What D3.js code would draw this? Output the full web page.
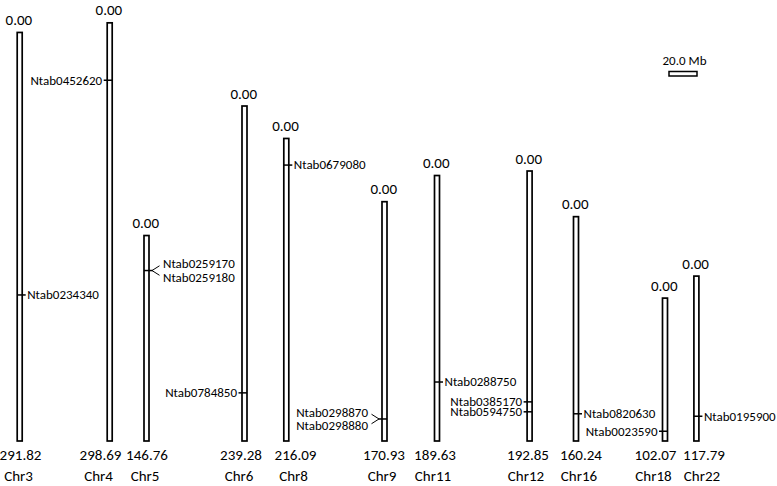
<!DOCTYPE html>
<html>
<head>
<meta charset="utf-8">
<script src="https://cdn.jsdelivr.net/npm/d3@7"></script>
<style>
  html, body { margin: 0; padding: 0; background: #fff; }
  svg { display: block; }
  text { font-family: Carlito, Calibri, Lato, "Open Sans", sans-serif; fill: #000; }
</style>
</head>
<body>
<svg id="chart" width="777" height="486"></svg>
<script>
// ---- data ----
const chromosomes = ["Chr3","Chr4","Chr5","Chr6","Chr8","Chr9","Chr11","Chr12","Chr16","Chr18","Chr22"];
const lengthsMb   = [291.82, 298.69, 146.76, 239.28, 216.09, 170.93, 189.63, 192.85, 160.24, 102.07, 117.79];
const startMb     = [0, 0, 0, 0, 0, 0, 0, 0, 0, 0, 0];

const markerNames = ["Ntab0234340","Ntab0452620","Ntab0259170","Ntab0259180","Ntab0784850","Ntab0679080",
                     "Ntab0298870","Ntab0298880","Ntab0288750","Ntab0385170","Ntab0594750","Ntab0820630",
                     "Ntab0023590","Ntab0195900"];
const markerChr   = ["Chr3","Chr4","Chr5","Chr5","Chr6","Chr8","Chr9","Chr9","Chr11","Chr12","Chr12","Chr16","Chr18","Chr22"];
const markerPosMb = [187.5, 41.0, 25.0, 25.0, 204.9, 19.0, 155.2, 155.2, 147.5, 164.9, 172.0, 140.8, 95.1, 100.1];

const scaleBarMb = 20.0;

// ---- layout (positions, not data) ----
const barCenterX  = [19.7, 109.7, 146.5, 244.5, 286.3, 384.5, 437, 529.6, 576, 665, 696.4];
const labelCenterX= [20.5, 100.5, 147, 241, 295.5, 384, 435, 528, 581, 655.5, 704];
const labelSide   = ["R","L","R","L","R","L","R","L","R","L","R"];
const barBottom = 441;
const barW = 5;
const markFont = 13;
const numFont = 15;

const svg = d3.select("#chart");

// Mb -> pixels
const mb = d3.scaleLinear().domain([0, 300]).range([0, 420]);

const chrIndex = new Map(chromosomes.map((c, i) => [c, i]));
const chrData = chromosomes.map((c, i) => ({
  name: c, len: lengthsMb[i], start: startMb[i],
  cx: barCenterX[i], lx: labelCenterX[i], side: labelSide[i]
}));
const yOf = (d, pos) => barBottom - mb(d.len - pos);

// chromosome bars
svg.append("g").selectAll("rect").data(chrData).join("rect")
  .attr("x", d => d.cx - barW / 2)
  .attr("y", d => yOf(d, d.start))
  .attr("width", barW)
  .attr("height", d => mb(d.len - d.start))
  .attr("fill", "#fff")
  .attr("stroke", "#000")
  .attr("stroke-width", 1.7);

// top labels
svg.append("g").selectAll("text").data(chrData).join("text")
  .attr("x", d => d.cx - 0.8)
  .attr("y", d => yOf(d, d.start) - 7.5)
  .attr("text-anchor", "middle")
  .attr("font-size", numFont)
  .text(d => d.start.toFixed(2));

// bottom length labels
svg.append("g").selectAll("text").data(chrData).join("text")
  .attr("x", d => d.lx)
  .attr("y", 460)
  .attr("text-anchor", "middle")
  .attr("font-size", numFont)
  .text(d => d.len.toFixed(2));

// chromosome names
svg.append("g").selectAll("text").data(chrData).join("text")
  .attr("x", d => d.lx - 2)
  .attr("y", 481)
  .attr("text-anchor", "middle")
  .attr("font-size", numFont)
  .text(d => d.name);

// markers, grouped by chromosome + position
const markers = markerNames.map((n, i) => ({ name: n, chr: markerChr[i], pos: markerPosMb[i] }));
const groups = d3.groups(markers, m => m.chr + "|" + m.pos);

const gm = svg.append("g");
groups.forEach(([key, ms]) => {
  const d = chrData[chrIndex.get(ms[0].chr)];
  const y = yOf(d, ms[0].pos);
  const s = d.side === "R" ? 1 : -1;
  const left = d.cx - barW / 2, right = d.cx + barW / 2;
  gm.append("line")
    .attr("x1", s > 0 ? left : left - 3.5)
    .attr("x2", s > 0 ? right + 3.5 : right)
    .attr("y1", y).attr("y2", y)
    .attr("stroke", "#000").attr("stroke-width", 1.5);
  if (ms.length === 1) {
    gm.append("text")
      .attr("x", d.cx + s * 7.5)
      .attr("y", y)
      .attr("dy", "0.34em")
      .attr("text-anchor", s > 0 ? "start" : "end")
      .attr("font-size", markFont)
      .text(ms[0].name);
  } else {
    const n = ms.length;
    ms.forEach((m, k) => {
      const off = (k - (n - 1) / 2) * 13.5;
      const endOff = (k - (n - 1) / 2) * 9.5;
      gm.append("line")
        .attr("x1", d.cx + s * 5.5).attr("y1", y)
        .attr("x2", d.cx + s * 13).attr("y2", y + endOff)
        .attr("stroke", "#000").attr("stroke-width", 1);
      gm.append("text")
        .attr("x", d.cx + s * 16.5)
        .attr("y", y + off)
        .attr("dy", "0.34em")
        .attr("text-anchor", s > 0 ? "start" : "end")
        .attr("font-size", markFont)
        .text(m.name);
    });
  }
});

// scale bar
const sbX = 669, sbY = 71.5;
svg.append("rect")
  .attr("x", sbX).attr("y", sbY)
  .attr("width", mb(scaleBarMb)).attr("height", 4.5)
  .attr("fill", "#fff").attr("stroke", "#000").attr("stroke-width", 1.5);
svg.append("text")
  .attr("x", sbX + mb(scaleBarMb) / 2 + 1.5)
  .attr("y", 65)
  .attr("text-anchor", "middle")
  .attr("font-size", 13)
  .text(scaleBarMb.toFixed(1) + " Mb");
</script>
</body>
</html>
